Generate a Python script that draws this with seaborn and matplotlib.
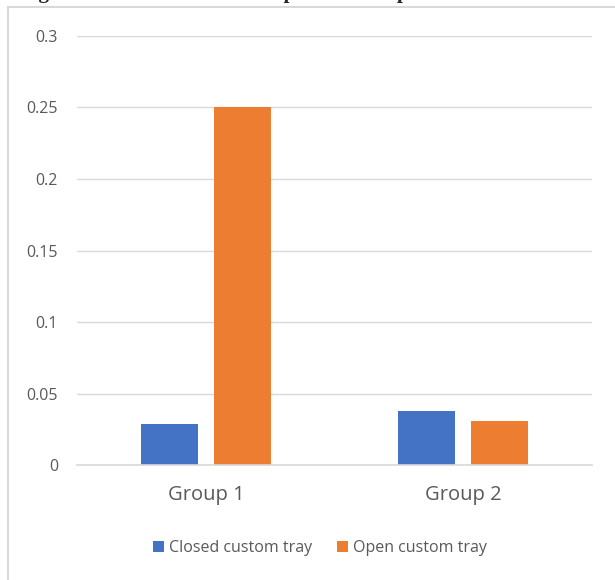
import pandas as pd
import matplotlib
matplotlib.use('Agg')
import matplotlib.pyplot as plt
import seaborn as sns
from matplotlib.patches import Rectangle


groups = ['Group 1', 'Group 2']
closed_tray = [0.029, 0.038]
open_tray = [0.25, 0.031]
series_names = ['Closed custom tray', 'Open custom tray']
y_ticks = [0, 0.05, 0.1, 0.15, 0.2, 0.25, 0.3]
y_tick_labels = ['0', '0.05', '0.1', '0.15', '0.2', '0.25', '0.3']
colors = ['#4472C4', '#ED7D31']
title = 'Figure 1. Correlation of Group1 and Group2'


def get_data():
    return pd.DataFrame({
        'group': groups * 2,
        'tray': [series_names[0]] * 2 + [series_names[1]] * 2,
        'value': closed_tray + open_tray,
    })


def plot_bars(fig):
    ax = fig.add_axes([0.126, 0.198, 0.836, 0.740])
    sns.barplot(data=get_data(), x='group', y='value', hue='tray',
                palette=colors, width=0.57, gap=0.22, ax=ax,
                edgecolor='none', saturation=1)

    ax.set_ylim(0, 0.3)
    ax.set_xlim(-0.5, 1.5)
    ax.set_yticks(y_ticks)
    ax.set_yticklabels(y_tick_labels)
    ax.set_xlabel('')
    ax.set_ylabel('')
    ax.grid(axis='y', color='#d9d9d9', linewidth=1)
    ax.grid(axis='x', visible=False)
    ax.set_axisbelow(True)
    for side in ['top', 'right', 'left']:
        ax.spines[side].set_visible(False)
    ax.spines['bottom'].set_color('#d9d9d9')
    ax.spines['bottom'].set_linewidth(1.2)
    ax.tick_params(axis='both', length=0, colors='#595959')
    ax.tick_params(axis='y', labelsize=11.5, pad=14)
    ax.tick_params(axis='x', labelsize=14.5, pad=14)

    handles, labels = ax.get_legend_handles_labels()
    ax.get_legend().remove()
    fig.legend(handles, labels, loc='center', bbox_to_anchor=(0.52, 0.055),
               ncol=2, frameon=False, fontsize=11.5, labelcolor='#595959',
               handlelength=0.7, handleheight=0.7, handletextpad=0.3,
               columnspacing=1.6)
    return ax


if __name__ == '__main__':
    sns.set_style('white')
    plt.rcParams['font.family'] = ['Open Sans', 'DejaVu Sans']

    fig = plt.figure(figsize=(6.15, 5.8), dpi=100)
    fig.patches.append(Rectangle((8 / 615, -0.01), 1.0, 1 - 7 / 580 + 0.01,
                                 transform=fig.transFigure, fill=False,
                                 edgecolor='#d9d9d9', linewidth=1.5))
    fig.text(20 / 615, 1 + 2 / 580, title, fontsize=15, fontweight='bold',
             family='Liberation Serif', va='baseline', ha='left')
    plot_bars(fig)

    fig.savefig('out.png', dpi=100)
